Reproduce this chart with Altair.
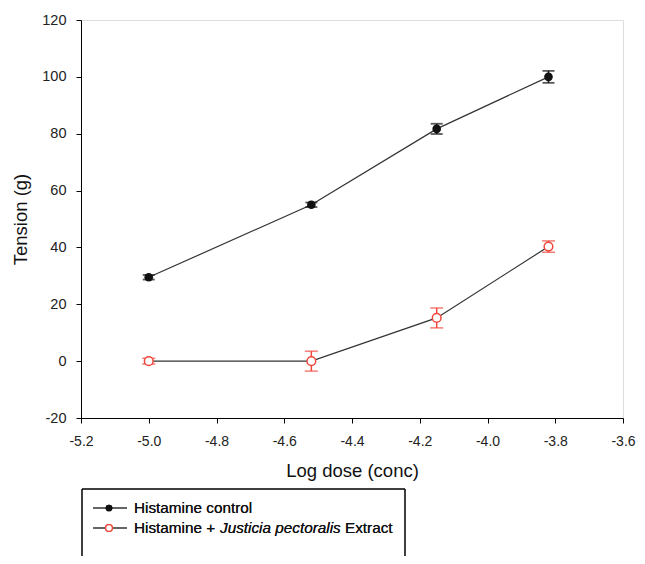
import altair as alt
import pandas as pd

dose = [-5.0, -4.52, -4.15, -3.82]
control = [29.5, 55.0, 81.7, 100.0]
control_err = [0.8, 0.8, 1.8, 2.1]
extract = [0.0, 0.0, 15.2, 40.3]
extract_err = [1.0, 3.5, 3.5, 2.0]

series_names = ["Histamine control", "Histamine + Justicia pectoralis Extract"]
x_ticks = [-5.2, -5.0, -4.8, -4.6, -4.4, -4.2, -4.0, -3.8, -3.6]
y_ticks = [-20, 0, 20, 40, 60, 80, 100, 120]

rows = []
for d, v, e in zip(dose, control, control_err):
    rows.append({"dose": d, "val": v, "lo": v - e, "hi": v + e, "s": series_names[0]})
for d, v, e in zip(dose, extract, extract_err):
    rows.append({"dose": d, "val": v, "lo": v - e, "hi": v + e, "s": series_names[1]})
df = pd.DataFrame(rows)
dc = df[df.s == series_names[0]]
de = df[df.s == series_names[1]]

FONT = "Liberation Sans"
RED = "#f0463c"
MINUS = "\u2212"

xs = alt.Scale(domain=[-5.2, -3.6], nice=False, zero=False)
ys = alt.Scale(domain=[-20, 120], nice=False, zero=False)

xax = alt.Axis(values=x_ticks,
               labelExpr="replace(format(datum.value, '.1f'), '" + MINUS + "', '-')",
               title="Log dose (conc)", grid=False, domainColor="black", tickColor="black",
               labelFont=FONT, labelFontSize=14, labelColor="#222", titleFont=FONT,
               titleFontSize=18.5, titleFontWeight="normal", titleColor="#111",
               tickSize=5, labelPadding=11, titlePadding=13, labelFlush=False)
yax = alt.Axis(values=y_ticks,
               labelExpr="replace(format(datum.value, 'd'), '" + MINUS + "', '-')",
               title="Tension (g)", grid=False,
               domainColor="black", tickColor="black", labelFont=FONT, labelFontSize=14.5,
               labelColor="#222", titleFont=FONT, titleFontSize=18.5, titleFontWeight="normal",
               titleColor="#111", tickSize=5, labelPadding=10, titlePadding=11, labelFlush=False)

base_c = alt.Chart(dc)
base_e = alt.Chart(de)

line_c = base_c.mark_line(color="#333", strokeWidth=1.2).encode(
    x=alt.X("dose:Q", scale=xs, axis=xax), y=alt.Y("val:Q", scale=ys, axis=yax))
line_e = base_e.mark_line(color="#333", strokeWidth=1.2).encode(
    x=alt.X("dose:Q", scale=xs), y=alt.Y("val:Q", scale=ys))

err_c = base_c.mark_rule(color="#111", strokeWidth=1.5).encode(
    x="dose:Q", y="lo:Q", y2="hi:Q")
cap_c_lo = base_c.mark_tick(color="#111", size=12, thickness=1.8, orient="horizontal").encode(
    x="dose:Q", y="lo:Q")
cap_c_hi = base_c.mark_tick(color="#111", size=12, thickness=1.8, orient="horizontal").encode(
    x="dose:Q", y="hi:Q")
err_e = base_e.mark_rule(color=RED, strokeWidth=1.5).encode(
    x="dose:Q", y="lo:Q", y2="hi:Q")
cap_e_lo = base_e.mark_tick(color=RED, size=13, thickness=1.5, orient="horizontal").encode(
    x="dose:Q", y="lo:Q")
cap_e_hi = base_e.mark_tick(color=RED, size=13, thickness=1.5, orient="horizontal").encode(
    x="dose:Q", y="hi:Q")

pts_c = base_c.mark_point(shape="circle", filled=True, color="#111", size=75, opacity=1).encode(
    x="dose:Q", y="val:Q")
pts_e = base_e.mark_point(shape="circle", filled=False, fill="white", fillOpacity=1,
                          stroke=RED, strokeWidth=1.5, size=75, opacity=1).encode(
    x="dose:Q", y="val:Q")

# legend (custom, built from series names)
leg_df = pd.DataFrame({"s": series_names, "row": [0, 1]})
leg = alt.Chart(leg_df)
box_left = leg.mark_rule(color="black", strokeWidth=1).encode(
    x=alt.value(1), y=alt.value(469), y2=alt.value(600))
box_right = leg.mark_rule(color="black", strokeWidth=1).encode(
    x=alt.value(324), y=alt.value(469), y2=alt.value(600))
box_top = leg.mark_rule(color="black", strokeWidth=1).encode(
    x=alt.value(1), x2=alt.value(324), y=alt.value(469))

leg_line1 = leg.mark_rule(color="#333", strokeWidth=1.2).encode(
    x=alt.value(12), x2=alt.value(46), y=alt.value(488))
leg_line2 = leg.mark_rule(color="#333", strokeWidth=1.2).encode(
    x=alt.value(12), x2=alt.value(46), y=alt.value(508))
leg_pt1 = leg.mark_point(shape="circle", filled=True, color="#111", size=45, opacity=1).encode(
    x=alt.value(28), y=alt.value(488))
leg_pt2 = leg.mark_point(shape="circle", filled=False, fill="white", fillOpacity=1, stroke=RED,
                         strokeWidth=1.3, size=45, opacity=1).encode(
    x=alt.value(28), y=alt.value(508))

t_kw = dict(font=FONT, fontSize=15.3, color="#111", align="left", baseline="middle")
leg_t1 = leg.mark_text(**t_kw).encode(
    x=alt.value(53), y=alt.value(488), text=alt.value(series_names[0]))
leg_t2a = leg.mark_text(**t_kw).encode(
    x=alt.value(53), y=alt.value(508), text=alt.value("Histamine + "))
leg_t2b = leg.mark_text(fontStyle="italic", **t_kw).encode(
    x=alt.value(139), y=alt.value(508), text=alt.value("Justicia pectoralis"))
leg_t2c = leg.mark_text(**t_kw).encode(
    x=alt.value(264), y=alt.value(508), text=alt.value("Extract"))

chart = alt.layer(
    line_c, line_e, err_c, cap_c_lo, cap_c_hi, err_e, cap_e_lo, cap_e_hi, pts_c, pts_e,
    box_left, box_right, box_top, leg_line1, leg_line2, leg_pt1, leg_pt2,
    leg_t1, leg_t2a, leg_t2b, leg_t2c
).properties(
    width=542, height=398,
    autosize=alt.AutoSizeParams(type="none"),
    padding={"left": 73, "top": 12, "right": 14, "bottom": 138},
).configure_view(stroke="black", strokeWidth=1).configure(background="white")

chart.save("out.html", embed_options={"renderer": "svg", "actions": False})
